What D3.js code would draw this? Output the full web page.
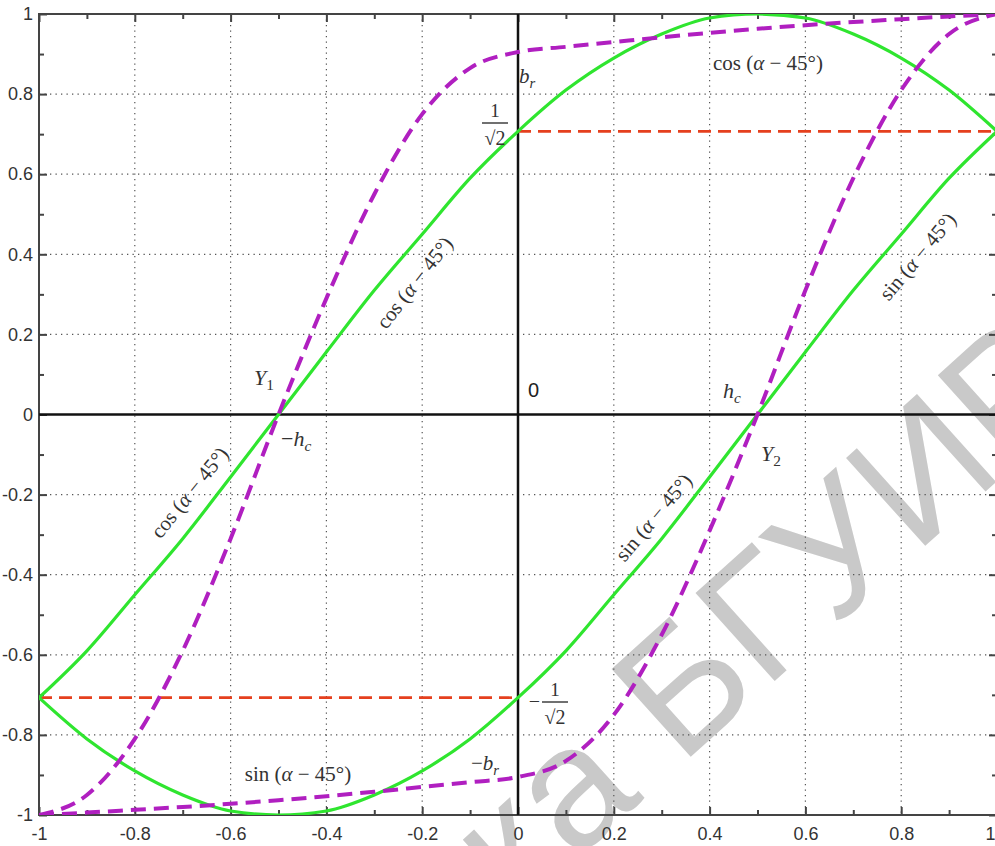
<!DOCTYPE html>
<html>
<head>
<meta charset="utf-8">
<script src="https://cdn.jsdelivr.net/npm/d3@7"></script>
<style>
    html, body { margin: 0; padding: 0; background: #fff; }
    svg { display: block; }
    .tick-label { font-family: 'Liberation Sans Narrow', 'Arial Narrow', 'Liberation Sans', sans-serif; font-size: 18px; fill: #333; }
    .math { font-family: 'Liberation Serif', 'DejaVu Serif', serif; fill: #333; }
</style>
</head>
<body>
<div id="chart"></div>
<script>
// sample positions along x
const xs = [-1, -0.9, -0.8, -0.7, -0.6, -0.5, -0.4, -0.3, -0.2, -0.1, 0, 0.1, 0.2, 0.3, 0.4, 0.5, 0.6, 0.7, 0.8, 0.9, 1];

// green solid: cos(a - 45)
const cosCurve = [-0.707, -0.59, -0.45, -0.31, -0.156, 0, 0.156, 0.31, 0.45, 0.59, 0.707, 0.81, 0.89, 0.95, 0.99, 1, 0.99, 0.95, 0.89, 0.81, 0.707];
// green solid: sin(a - 45)
const sinCurve = [-0.707, -0.81, -0.89, -0.95, -0.99, -1, -0.99, -0.95, -0.89, -0.81, -0.707, -0.59, -0.45, -0.31, -0.156, 0, 0.156, 0.31, 0.45, 0.59, 0.707];
// magenta dashed, upper branch (through b_r)
const upperDash = [-1, -0.95, -0.81, -0.59, -0.31, 0, 0.29, 0.55, 0.75, 0.865, 0.905, 0.918, 0.93, 0.942, 0.953, 0.963, 0.972, 0.98, 0.987, 0.994, 1];
// magenta dashed, lower branch (through -b_r)
const lowerDash = [-1, -0.994, -0.987, -0.98, -0.972, -0.963, -0.953, -0.942, -0.93, -0.918, -0.905, -0.865, -0.75, -0.55, -0.29, 0, 0.31, 0.59, 0.81, 0.95, 1];

// red dashed levels
const levelPos = { y: 0.707, from: 0, to: 1 };
const levelNeg = { y: -0.707, from: -1, to: 0 };

const majorTicks = [-1, -0.8, -0.6, -0.4, -0.2, 0, 0.2, 0.4, 0.6, 0.8, 1];
const minorTicks = [-0.9, -0.7, -0.5, -0.3, -0.1, 0.1, 0.3, 0.5, 0.7, 0.9];
const tickLabels = ['-1', '-0.8', '-0.6', '-0.4', '-0.2', '0', '0.2', '0.4', '0.6', '0.8', '1'];

const W = 995, H = 846;
const plotLeft = 39, plotRight = 997, plotTop = 14, plotBottom = 815;

const svg = d3.select('#chart').append('svg')
    .attr('width', W)
    .attr('height', H);

const x = d3.scaleLinear().domain([-1, 1]).range([plotLeft, plotRight]);
const y = d3.scaleLinear().domain([-1, 1]).range([plotBottom, plotTop]);

svg.append('defs').append('clipPath').attr('id', 'plot-clip')
    .append('rect')
    .attr('x', plotLeft).attr('y', plotTop)
    .attr('width', plotRight - plotLeft).attr('height', plotBottom - plotTop);

// watermark
svg.append('text')
    .attr('transform', 'translate(515,915) rotate(-42)')
    .style('font-family', 'Liberation Sans, Arial, sans-serif')
    .style('font-size', '172px')
    .style('fill', '#c9c9c9')
    .text('ка БГУИР');

// dotted grid
const grid = svg.append('g');
grid.selectAll('.vgrid')
    .data(majorTicks.slice(1, -1))
    .enter().append('line')
    .attr('x1', d => x(d)).attr('x2', d => x(d))
    .attr('y1', plotTop).attr('y2', plotBottom)
    .attr('stroke', '#555').attr('stroke-width', 1.2)
    .attr('stroke-dasharray', '1.3,4.2');
grid.selectAll('.hgrid')
    .data(majorTicks.slice(1, -1))
    .enter().append('line')
    .attr('y1', d => y(d)).attr('y2', d => y(d))
    .attr('x1', plotLeft).attr('x2', plotRight)
    .attr('stroke', '#555').attr('stroke-width', 1.2)
    .attr('stroke-dasharray', '1.3,4.2');

// frame
svg.append('rect')
    .attr('x', plotLeft).attr('y', plotTop)
    .attr('width', plotRight - plotLeft).attr('height', plotBottom - plotTop)
    .attr('fill', 'none')
    .attr('stroke', '#444')
    .attr('stroke-width', 2);

// inward ticks on all four sides
function addTicks(axisFn, transform, values, size, labels) {
    const g = svg.append('g')
        .attr('transform', transform)
        .call(axisFn.tickValues(values).tickSizeInner(-size).tickSizeOuter(0)
            .tickPadding(8)
            .tickFormat((d, i) => labels ? labels[i] : ''));
    g.select('.domain').remove();
    g.selectAll('line').attr('stroke', '#444').attr('stroke-width', 2);
    g.selectAll('text').attr('class', 'tick-label').attr('fill', null);
    return g;
}

const bottomG = addTicks(d3.axisBottom(x), `translate(0,${plotBottom})`, majorTicks, 8, tickLabels);
bottomG.selectAll('text').attr('dy', '0.95em');
// last label sits on the window edge, keep it inside
bottomG.selectAll('text').filter(d => d === 1).attr('text-anchor', 'end').attr('x', -2);
addTicks(d3.axisBottom(x), `translate(0,${plotBottom})`, minorTicks, 5);
addTicks(d3.axisTop(x), `translate(0,${plotTop})`, majorTicks, 8);
addTicks(d3.axisTop(x), `translate(0,${plotTop})`, minorTicks, 5);
const leftG = addTicks(d3.axisLeft(y), `translate(${plotLeft},0)`, majorTicks, 8, tickLabels);
leftG.selectAll('text').attr('x', -6);
addTicks(d3.axisLeft(y), `translate(${plotLeft},0)`, minorTicks, 5);
addTicks(d3.axisRight(y), `translate(${plotRight},0)`, majorTicks, 8);
addTicks(d3.axisRight(y), `translate(${plotRight},0)`, minorTicks, 5);

// main axes through origin
svg.append('line')
    .attr('x1', x(0)).attr('x2', x(0)).attr('y1', plotTop).attr('y2', plotBottom)
    .attr('stroke', '#111').attr('stroke-width', 2.5);
svg.append('line')
    .attr('y1', y(0)).attr('y2', y(0)).attr('x1', plotLeft).attr('x2', plotRight)
    .attr('stroke', '#111').attr('stroke-width', 2.5);

const plot = svg.append('g').attr('clip-path', 'url(#plot-clip)');

// red dashed levels
[levelPos, levelNeg].forEach(l => {
    plot.append('line')
        .attr('x1', x(l.from)).attr('x2', x(l.to))
        .attr('y1', y(l.y)).attr('y2', y(l.y))
        .attr('stroke', '#e5401e')
        .attr('stroke-width', 2.6)
        .attr('stroke-dasharray', '13,7');
});

const line = d3.line()
    .x(d => x(d[0]))
    .y(d => y(d[1]))
    .curve(d3.curveMonotoneX);

const zip = vals => xs.map((v, i) => [v, vals[i]]);

[cosCurve, sinCurve].forEach(vals => {
    plot.append('path')
        .attr('d', line(zip(vals)))
        .attr('fill', 'none')
        .attr('stroke', '#2fe52f')
        .attr('stroke-width', 3.2);
});

[upperDash, lowerDash].forEach(vals => {
    plot.append('path')
        .attr('d', line(zip(vals)))
        .attr('fill', 'none')
        .attr('stroke', '#b01fc0')
        .attr('stroke-width', 4)
        .attr('stroke-dasharray', '15,8');
});

// formula labels
function formula(cx, cy, fn, angle, size) {
    const t = svg.append('text')
        .attr('class', 'math')
        .attr('text-anchor', 'middle')
        .attr('transform', `translate(${cx},${cy}) rotate(${angle})`)
        .style('font-size', size + 'px');
    t.append('tspan').text(fn + ' (');
    t.append('tspan').style('font-style', 'italic').text('α');
    t.append('tspan').text(' − 45°)');
}

formula(768, 70, 'cos', 0, 21);
formula(298, 781, 'sin', 0, 21);
formula(420, 287, 'cos', -52, 21);
formula(195, 497, 'cos', -51, 21);
formula(659, 522, 'sin', -50, 21);
formula(923, 261, 'sin', -50, 21);

// symbol with subscript
function symbol(px, py, prefix, main, sub, size) {
    const t = svg.append('text')
        .attr('class', 'math')
        .attr('x', px).attr('y', py)
        .style('font-size', size + 'px');
    if (prefix) t.append('tspan').text(prefix);
    t.append('tspan').style('font-style', 'italic').text(main);
    t.append('tspan').attr('dy', 5).style('font-size', (size * 0.7) + 'px')
        .style('font-style', /[0-9]/.test(sub) ? 'normal' : 'italic').text(sub);
}

symbol(519, 83, '', 'b', 'r', 21);
symbol(471, 770, '−', 'b', 'r', 21);
symbol(254, 385, '', 'Y', '1', 22);
symbol(761, 461, '', 'Y', '2', 22);
symbol(723, 398, '', 'h', 'c', 22);
symbol(281, 446, '−', 'h', 'c', 22);

// 1/sqrt(2) fractions
function fraction(cx, barY, sign) {
    const g = svg.append('g');
    if (sign) {
        g.append('text').attr('class', 'math')
            .attr('x', cx - 15).attr('y', barY + 6)
            .attr('text-anchor', 'end')
            .style('font-size', '20px')
            .text('−');
    }
    g.append('text').attr('class', 'math')
        .attr('x', cx).attr('y', barY - 6)
        .attr('text-anchor', 'middle')
        .style('font-size', '19px')
        .text('1');
    g.append('line')
        .attr('x1', cx - 13).attr('x2', cx + 13)
        .attr('y1', barY).attr('y2', barY)
        .attr('stroke', '#333').attr('stroke-width', 1.4);
    g.append('text').attr('class', 'math')
        .attr('x', cx).attr('y', barY + 22)
        .attr('text-anchor', 'middle')
        .style('font-size', '20px')
        .text('√2');
}

fraction(495, 123, false);
fraction(555, 702, true);

// origin label
svg.append('text')
    .attr('x', 528).attr('y', 397)
    .style('font-family', 'Liberation Sans, Arial, sans-serif')
    .style('font-size', '20px')
    .style('fill', '#222')
    .text('0');
</script>
</body>
</html>
